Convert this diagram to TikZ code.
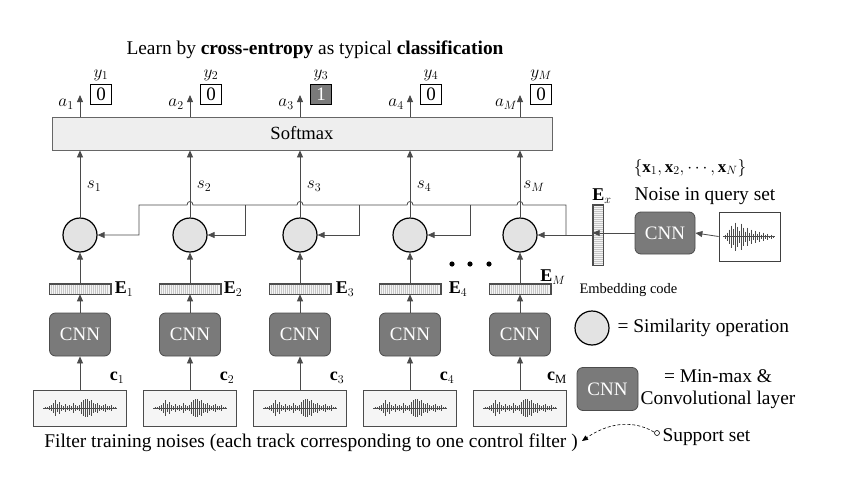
\documentclass[tikz,border=0pt]{standalone}
\usepackage{fontspec}
\setmainfont{Liberation Serif}
\usetikzlibrary{arrows.meta}
\definecolor{cnnfill}{HTML}{7A7A7A}
\definecolor{linec}{HTML}{4A4A4A}
\newcommand{\fs}[1]{\fontsize{#1}{#1}\selectfont}
\newcommand{\supwave}[2]{%
  \foreach \a [count=\i] in {1,1,2,3,5,8,4,6,3,2,4,2,3,2,5,3,2,3,6,8,9,9,7,8,5,4,5,3,2,3,4,2,2,3,1,1}
    {\draw[gray!60!black, line width=0.6pt] ({#1+(\i-18.5)*2},{#2-\a}) -- ({#1+(\i-18.5)*2},{#2+\a});}
  \draw[gray!60!black, line width=0.4pt] ({#1-37},#2) -- ({#1+37},#2);}
\begin{document}
\begin{tikzpicture}[x=1pt,y=-1pt,
  arr/.style={draw=linec, line width=0.8pt, -{Triangle[length=7pt,width=6pt]}},
  simc/.style={circle, draw=black, line width=1.2pt, fill=gray!22, minimum size=34pt, inner sep=0pt},
  cnnbox/.style={rounded corners=6pt, draw=black!70, line width=0.8pt, fill=cnnfill, minimum width=61pt, minimum height=43pt, text=white, font=\fs{19}, inner sep=0pt},
  embbar/.style={draw=black!70, line width=0.6pt, fill=gray!8, minimum width=61pt, minimum height=10pt, inner sep=0pt},
  wavbox/.style={draw=black!70, line width=0.8pt, fill=gray!8, minimum width=93pt, minimum height=36pt, inner sep=0pt},
  ybox/.style={draw=black, line width=0.8pt, minimum width=21pt, minimum height=20pt, inner sep=0pt, font=\fs{19}},
  lbl/.style={font=\fs{18}, inner sep=0pt},
  txt/.style={font=\fs{19.4}},
  stripe/.style={draw=gray!45, line width=0.3pt}
]
\useasboundingbox (0,0) rectangle (847,477);

% title
\node[txt] (title) at (315,50) {Learn by \textbf{cross-entropy} as typical \textbf{classification}};

% softmax
\node[draw=gray!80!black, line width=0.8pt, fill=gray!13, minimum width=500pt, minimum height=33pt, inner sep=0pt, font=\fs{18.6}] (sm) at (302,133.5) {Softmax};

% columns
\foreach \cx/\l/\cl/\n/\ex/\ey in {80/1/1/1/124/289,190/2/2/2/233/289,300/3/3/3/345/289,410/4/4/4/458/289,520/M/{\mathrm{M}}/5/553/277} {
  \node[wavbox] (w\n) at (\cx,408) {};
  \supwave{\cx}{408}
  \node[cnnbox] (k\n) at (\cx,334.5) {CNN};
  \node[embbar] (e\n) at (\cx,289) {};
  \foreach \k in {1,...,29} {\draw[stripe] ({\cx-30.5+2*\k},284.5) -- ({\cx-30.5+2*\k},293.5);}
  \draw[black!70, line width=0.6pt] (e\n.north west) rectangle (e\n.south east);
  \node[simc] (s\n) at (\cx,235) {};
  \draw[arr] (w\n.north) -- (k\n.south);
  \draw[arr] (k\n.north) -- (e\n.south);
  \draw[arr] (e\n.north) -- (s\n.south);
  \draw[arr] (s\n.north) -- (s\n.north |- sm.south);
  \coordinate (at\n) at (\cx,95);
  \draw[arr] (sm.north -| s\n) -- (at\n);
  \node[lbl] (al\n) at (\cx-14,104) {$a_{\l}$};
  \node[lbl] (sl\n) at (\cx+14,186) {$s_{\l}$};
  \node[lbl] (yl\n) at (\cx+21,75) {$y_{\l}$};
  \node[lbl] (el\n) at (\ex,\ey) {$\mathbf{E}_{\l}$};
  \node[lbl] (cl\n) at (\cx+37,378) {$\mathbf{c}_{\cl}$};
}
% y boxes
\node[ybox] (y1) at (101,94) {0};
\node[ybox] (y2) at (211,94) {0};
\node[ybox, fill=cnnfill, text=white] (y3) at (321,94) {1};
\node[ybox] (y4) at (431,94) {0};
\node[ybox] (y5) at (541,94) {0};

% query branch
\node[draw=black!75, line width=0.8pt, fill=white, minimum width=61pt, minimum height=49pt, inner sep=0pt] (qw) at (749.5,236.5) {};
\foreach \a [count=\i] in {2,4,7,11,8,14,10,6,13,9,5,9,4,7,3,6,3,5,2,4,2,3,1,2,1}
  {\draw[gray!60!black, line width=0.7pt] ({725+(\i-1)*2},{236.5-\a}) -- ({725+(\i-1)*2},{236.5+\a});}
\draw[gray!60!black, line width=0.4pt] (723,236.5) -- (775,236.5);
\node[cnnbox, minimum width=60pt, minimum height=42pt] (qk) at (665,233) {CNN};
\node[draw=black!70, line width=0.6pt, fill=gray!8, minimum width=10pt, minimum height=60pt, inner sep=0pt] (ex) at (598,235) {};
\foreach \k in {1,...,29} {\draw[stripe] (593.5,{205+2*\k}) -- (602.5,{205+2*\k});}
\draw[black!70, line width=0.6pt] (ex.north west) rectangle (ex.south east);
\node[lbl] (exl) at (602,196) {$\mathbf{E}_{x}$};
\draw[arr] (qw.west) -- (qk.east);
\draw[arr] (qk.west) -- (ex.west |- qk.west) ;
\draw[arr] (ex.west) -- (s5.east);
\node[font=\fs{17}] (xset) at (690,168) {$\left\{\mathbf{x}_1,\mathbf{x}_2,\cdots,\mathbf{x}_N\right\}$};
\node[txt] (qtxt) at (705,196) {Noise in query set};

% bus line with hops
\draw[arr] (566,235) -- (566,205)
  -- (523,205) .. controls (523,200.3) and (517,200.3) .. (517,205)
  -- (413,205) .. controls (413,200.3) and (407,200.3) .. (407,205)
  -- (303,205) .. controls (303,200.3) and (297,200.3) .. (297,205)
  -- (193,205) .. controls (193,200.3) and (187,200.3) .. (187,205)
  -- (139,205) -- (139,235) -- (s1.east);
\draw[arr] (245,205) -- (245,235) -- (s2.east);
\draw[arr] (359,205) -- (359,235) -- (s3.east);
\draw[arr] (470,205) -- (470,235) -- (s4.east);

% dots
\foreach \d [count=\j] in {452,470,489} {\fill (\d,264) circle (2.6pt);}

% embedding code
\node[font=\fs{14.5}, anchor=west] (embtxt) at (576,290) {Embedding code};

% legend
\node[simc] (lc) at (592,328) {};
\node[txt, anchor=west] (lct) at (614,328) {= Similarity operation};
\node[cnnbox] (lk) at (607.5,389) {CNN};
\node[txt, align=center] (lkt) at (718,389) {= Min-max \&\\[3pt]Convolutional layer};

% bottom
\node[txt] (btxt) at (311,443) {Filter training noises (each track corresponding to one control filter )};
\draw[densely dashed, line width=0.6pt, -{Triangle[length=6pt,width=5pt]}] (654,432) .. controls (630,418) and (605,425) .. (582,441);
\draw[line width=0.6pt, fill=white] (657,433) circle (2.5pt);
\node[txt, anchor=west] (sup) at (659,437) {Support set};
\end{tikzpicture}
\end{document}
